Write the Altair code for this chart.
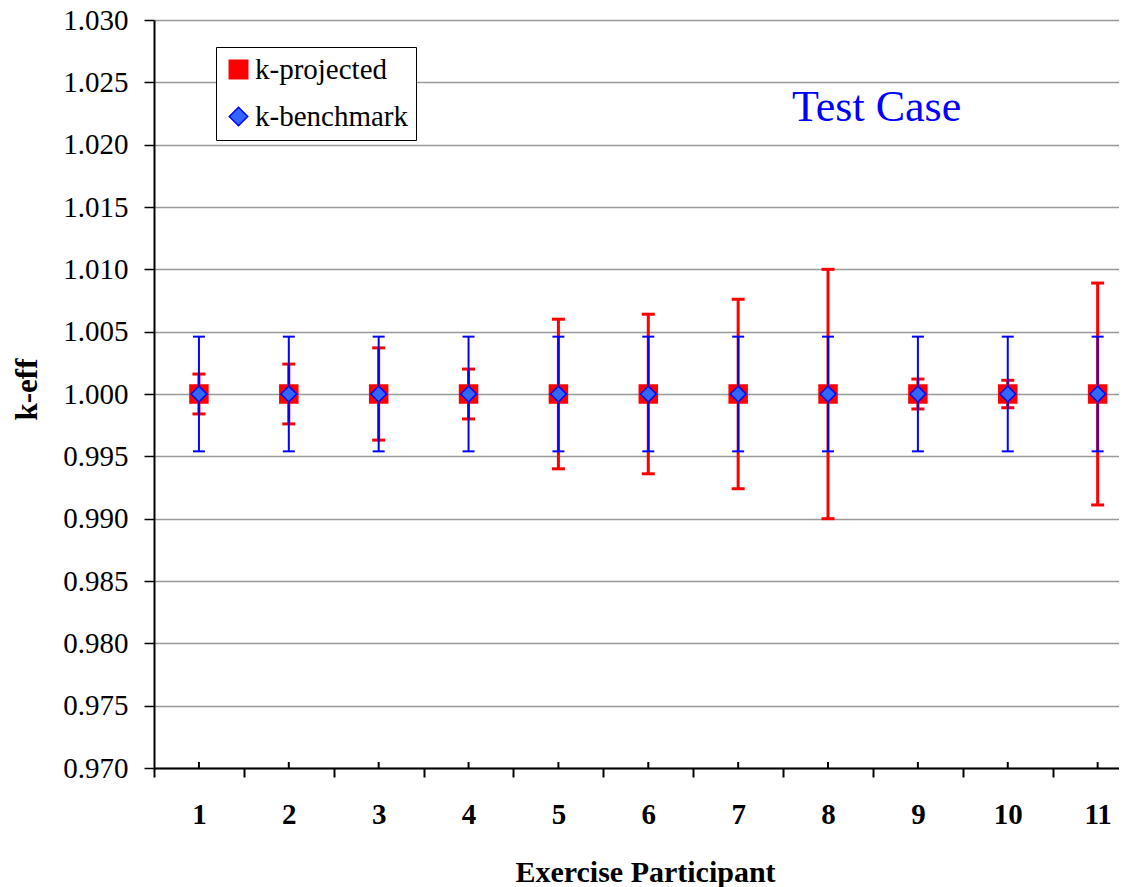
import altair as alt
import pandas as pd

# ---- data ----
participants = [1, 2, 3, 4, 5, 6, 7, 8, 9, 10, 11]
k_projected = [1.000, 1.000, 1.000, 1.000, 1.000, 1.000, 1.000, 1.000, 1.000, 1.000, 1.000]
proj_unc = [0.0016, 0.0024, 0.0037, 0.0020, 0.0060, 0.0064, 0.0076, 0.0100, 0.0012, 0.0011, 0.0089]
k_benchmark = [1.000, 1.000, 1.000, 1.000, 1.000, 1.000, 1.000, 1.000, 1.000, 1.000, 1.000]
bench_unc = [0.0046, 0.0046, 0.0046, 0.0046, 0.0046, 0.0046, 0.0046, 0.0046, 0.0046, 0.0046, 0.0046]
series_names = ["k-projected", "k-benchmark"]
y_ticks = [0.970, 0.975, 0.980, 0.985, 0.990, 0.995, 1.000, 1.005, 1.010, 1.015, 1.020, 1.025, 1.030]
x_bounds = [0.5, 1.5, 2.5, 3.5, 4.5, 5.5, 6.5, 7.5, 8.5, 9.5, 10.5]
annotation = ["Test Case"]

FONT = "Liberation Serif"
RED = "#FF0000"
BLUE = "#0000FF"
BLUE_FILL = "#3366FF"

proj = pd.DataFrame({
    "participant": participants,
    "k": k_projected,
    "lo": [k - e for k, e in zip(k_projected, proj_unc)],
    "hi": [k + e for k, e in zip(k_projected, proj_unc)],
    "series": [series_names[0]] * len(participants),
})
bench = pd.DataFrame({
    "participant": participants,
    "k": k_benchmark,
    "lo": [k - e for k, e in zip(k_benchmark, bench_unc)],
    "hi": [k + e for k, e in zip(k_benchmark, bench_unc)],
    "series": [series_names[1]] * len(participants),
})
ann = pd.DataFrame({"label": annotation})

W, H = 965, 748
xs = alt.Scale(domain=[0.5, 11.2377], nice=False, zero=False)
ys = alt.Scale(domain=[0.970, 1.030], nice=False, zero=False)

axis_bounds = alt.Axis(
    orient="bottom", values=x_bounds, labels=False, grid=False,
    tickSize=9, tickWidth=2, tickColor="black",
    domainColor="black", domainWidth=2,
    title="Exercise Participant", titleFont=FONT, titleFontSize=30,
    titleFontWeight="bold", titleColor="black",
    titleX=491, titleY=113, titleBaseline="alphabetic", titleAlign="center",
)
axis_labels = alt.Axis(
    orient="bottom", values=participants, format="d", ticks=False, domain=False,
    grid=False, labelFont=FONT, labelFontSize=29, labelFontWeight="bold",
    labelColor="black", labelPadding=32, labelFlush=False, labelOverlap=False,
    title=None,
)
axis_y = alt.Axis(
    values=y_ticks, format=".3f", grid=True,
    title="k-eff", titleX=-118, titleY=369,
)

def Y(field):
    return alt.Y(field, scale=ys, axis=axis_y)

def Xn():
    return alt.X("participant:Q", scale=xs, axis=None)

# red error bars (carry the boundary-tick x axis)
red_rule = alt.Chart(proj).mark_rule(color=RED, strokeWidth=3, opacity=1).encode(
    x=alt.X("participant:Q", scale=xs, axis=axis_bounds),
    y=Y("lo:Q"),
    y2="hi:Q",
)
red_cap_lo = alt.Chart(proj).mark_tick(color=RED, orient="horizontal", size=13, thickness=3, opacity=1).encode(
    x=Xn(), y=Y("lo:Q"),
)
red_cap_hi = alt.Chart(proj).mark_tick(color=RED, orient="horizontal", size=13, thickness=3, opacity=1).encode(
    x=Xn(), y=Y("hi:Q"),
)

legend = alt.Legend(
    title=None, orient="none", legendX=62, legendY=27,
    padding=8, strokeColor="black", fillColor="white",
    labelFont=FONT, labelFontSize=29, labelColor="black",
    symbolSize=340, symbolStrokeWidth=1.5, rowPadding=17, labelOffset=2,
)
color_enc = alt.Color("series:N", scale=alt.Scale(domain=series_names, range=[RED, BLUE_FILL]), legend=legend)
shape_enc = alt.Shape("series:N", scale=alt.Scale(domain=series_names, range=["square", "diamond"]), legend=legend)
stroke_enc = alt.Stroke("series:N", scale=alt.Scale(domain=series_names, range=[RED, BLUE]), legend=legend)

red_pts = alt.Chart(proj).mark_point(filled=True, opacity=1, size=380, strokeWidth=0).encode(
    x=Xn(), y=Y("k:Q"),
    color=color_enc, shape=shape_enc, stroke=stroke_enc,
)

blue_rule = alt.Chart(bench).mark_rule(color=BLUE, strokeWidth=2, opacity=1).encode(
    x=Xn(), y=Y("lo:Q"), y2="hi:Q",
)
blue_cap_lo = alt.Chart(bench).mark_tick(color=BLUE, orient="horizontal", size=12, thickness=2, opacity=1).encode(
    x=Xn(), y=Y("lo:Q"),
)
blue_cap_hi = alt.Chart(bench).mark_tick(color=BLUE, orient="horizontal", size=12, thickness=2, opacity=1).encode(
    x=Xn(), y=Y("hi:Q"),
)
blue_pts = alt.Chart(bench).mark_point(filled=True, opacity=1, size=250, strokeWidth=1.5).encode(
    x=Xn(), y=Y("k:Q"),
    color=color_enc, shape=shape_enc, stroke=stroke_enc,
)

# small inward ticks at the category centres, carrying the label axis
center_ticks = alt.Chart(proj).mark_rule(color="black", strokeWidth=2).encode(
    x=alt.X("participant:Q", scale=xs, axis=axis_labels),
    y=alt.value(H - 6),
    y2=alt.value(H),
)

title_text = alt.Chart(ann).mark_text(
    font=FONT, fontSize=44, color=BLUE, align="left", baseline="alphabetic"
).encode(
    text="label:N",
    x=alt.value(638),
    y=alt.value(101),
)

chart = alt.layer(
    red_rule, red_cap_lo, red_cap_hi, red_pts,
    blue_rule, blue_cap_lo, blue_cap_hi, blue_pts,
    center_ticks, title_text,
).resolve_axis(x="independent").properties(
    width=W, height=H,
    padding={"left": 146, "top": 12, "right": 0, "bottom": 119},
    autosize=alt.AutoSizeParams(type="none"),
    background="white",
).configure_view(strokeWidth=0).configure_axisY(
    gridColor="#999999", gridWidth=1.5,
    tickSize=10, tickWidth=1.5, tickColor="black",
    domainColor="black", domainWidth=2,
    labelFont=FONT, labelFontSize=29, labelColor="black", labelPadding=16,
    labelFlush=False,
    titleFont=FONT, titleFontSize=31, titleFontWeight="bold",
    titleColor="black", titleAngle=270,
    titleBaseline="alphabetic", titleAlign="center",
)

chart.save("out.html", embed_options={"renderer": "svg", "actions": False})
